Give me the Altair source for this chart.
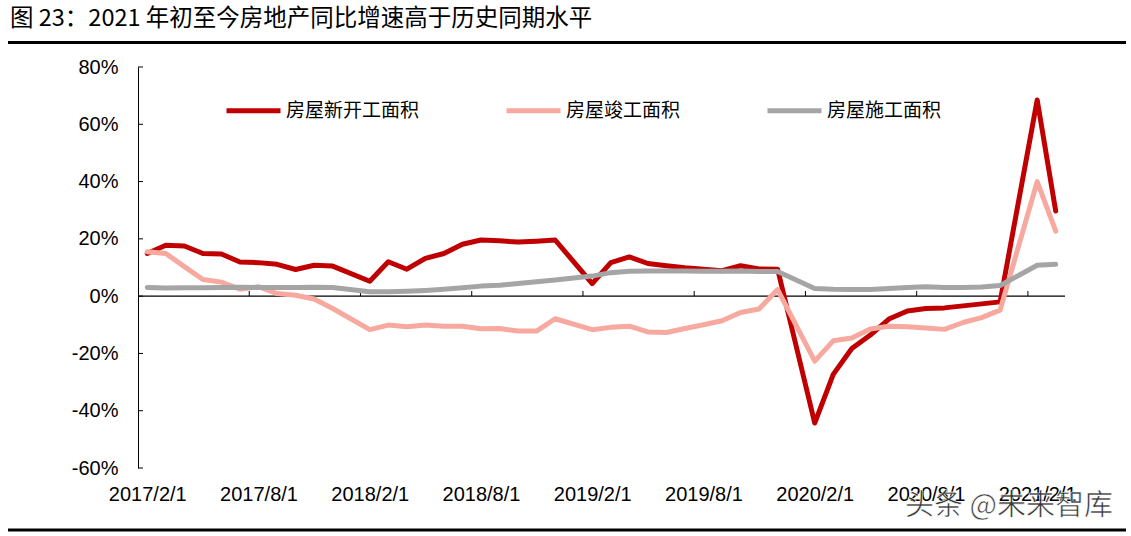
import altair as alt
import pandas as pd

# ---------------- data ----------------
months = [
    "2017/2", "2017/3", "2017/4", "2017/5", "2017/6", "2017/7", "2017/8", "2017/9", "2017/10", "2017/11", "2017/12",
    "2018/2", "2018/3", "2018/4", "2018/5", "2018/6", "2018/7", "2018/8", "2018/9", "2018/10", "2018/11", "2018/12",
    "2019/2", "2019/3", "2019/4", "2019/5", "2019/6", "2019/7", "2019/8", "2019/9", "2019/10", "2019/11", "2019/12",
    "2020/2", "2020/3", "2020/4", "2020/5", "2020/6", "2020/7", "2020/8", "2020/9", "2020/10", "2020/11", "2020/12",
    "2021/2", "2021/3",
]

new_start = [
    14.9, 17.8, 17.5, 14.9, 14.7, 11.9, 11.7, 11.1, 9.3, 10.8, 10.5,
    5.2, 12.0, 9.4, 13.2, 14.9, 18.1, 19.6, 19.3, 18.9, 19.2, 19.6,
    4.4, 11.7, 13.7, 11.4, 10.6, 9.9, 9.4, 8.9, 10.6, 9.5, 9.4,
    -44.3, -27.3, -18.3, -13.6, -8.0, -5.2, -4.3, -4.1, -3.4, -2.7, -2.0,
    68.5, 29.7,
]

completed = [
    15.5, 14.9, 10.3, 5.8, 4.9, 2.4, 3.3, 0.9, 0.3, -1.0, -4.3,
    -11.7, -10.1, -10.7, -10.1, -10.5, -10.5, -11.4, -11.3, -12.2, -12.2, -7.9,
    -11.7, -10.9, -10.5, -12.5, -12.7, -11.3, -10.0, -8.6, -5.7, -4.5, 2.3,
    -22.7, -15.6, -14.6, -11.5, -10.5, -10.7, -11.1, -11.6, -9.2, -7.5, -4.9,
    40.0, 22.7,
]

under_construction = [
    3.0, 2.8, 2.9, 2.9, 3.0, 3.1, 3.0, 3.0, 3.0, 3.1, 3.0,
    1.5, 1.5, 1.7, 2.0, 2.4, 2.9, 3.5, 3.8, 4.4, 5.0, 5.6,
    7.0, 8.2, 8.7, 8.8, 8.8, 8.8, 8.7, 8.7, 8.8, 8.6, 8.6,
    2.7, 2.4, 2.3, 2.3, 2.7, 3.0, 3.3, 3.0, 3.0, 3.2, 3.7,
    10.8, 11.1,
]

series_names = ["房屋新开工面积", "房屋竣工面积", "房屋施工面积"]
series_colors = ["#C00000", "#F7A9A0", "#A5A5A5"]

tick_labels = ["2017/2/1", "2017/8/1", "2018/2/1", "2018/8/1", "2019/2/1",
               "2019/8/1", "2020/2/1", "2020/8/1", "2021/2/1"]
y_ticks = [-60, -40, -20, 0, 20, 40, 60, 80]

title_text = "图 23：2021 年初至今房地产同比增速高于历史同期水平"
watermark_text = "头条 @未来智库"

# ---------------- build tables ----------------
def month_index(s):
    y, m = s.split("/")
    return (int(y) - 2017) * 12 + (int(m) - 2)

rows = []
for name, vals in zip(series_names, [new_start, completed, under_construction]):
    for mth, v in zip(months, vals):
        rows.append({"series": name, "t": month_index(mth) + 0.5, "v": v})
df = pd.DataFrame(rows)

x_tick_pos = [6 * (i + 1) for i in range(len(tick_labels) - 1)]
df_xt = pd.DataFrame({"t": x_tick_pos})
df_yt = pd.DataFrame({"v": y_ticks})
one = pd.DataFrame({"a": [0]})

W, H = 927, 401
PAD_L, PAD_T = 138, 67

x_scale = alt.Scale(domain=[0, 50], nice=False, zero=False)
y_scale = alt.Scale(domain=[-60, 80], nice=False, zero=False)

label_arr = "[" + ",".join("'%s'" % s for s in tick_labels) + "]"

x_enc = alt.X(
    "t:Q", scale=x_scale,
    axis=alt.Axis(
        values=[6 * i + 0.5 for i in range(len(tick_labels))],
        labelExpr=label_arr + "[floor(datum.value/6)]",
        labelFontSize=20, labelFont="Liberation Sans", labelColor="#000000",
        domain=False, ticks=False, grid=False, labelPadding=16,
        labelOverlap=False, labelFlush=False, title=None,
    ),
)
y_enc = alt.Y(
    "v:Q", scale=y_scale,
    axis=alt.Axis(
        values=y_ticks, labelExpr="datum.value + '%'",
        labelFontSize=20, labelFont="Liberation Sans", labelColor="#000000",
        domain=True, domainColor="#000000", domainWidth=1,
        ticks=False, grid=False, labelPadding=20, title=None,
    ),
)
color_enc = alt.Color(
    "series:N",
    scale=alt.Scale(domain=series_names, range=series_colors),
    sort=series_names,
    legend=alt.Legend(
        orient="none", legendX=86, legendY=14, direction="horizontal",
        title=None, symbolType="stroke", symbolStrokeWidth=5, symbolSize=2916,
        labelFontSize=19, labelFont="Noto Sans CJK SC", labelColor="#000000",
        columnPadding=76, labelOffset=3, labelLimit=400,
    ),
)

lines = []
for name in series_names:
    lines.append(
        alt.Chart(df).transform_filter(alt.datum.series == name)
        .mark_line(strokeWidth=5, strokeCap="round", strokeJoin="round")
        .encode(x=x_enc, y=y_enc, color=color_enc)
    )

zero_line = alt.Chart(one).mark_rule(color="#000000", strokeWidth=1.2).encode(
    y=alt.Y("z:Q", scale=y_scale),
).transform_calculate(z="0")

x_ticks = alt.Chart(df_xt).mark_rule(color="#000000", strokeWidth=1).encode(
    x=alt.X("t:Q", scale=x_scale),
    y=alt.Y("y0:Q", scale=y_scale),
    y2="y1:Q",
).transform_calculate(y0="0", y1="1.8")

y_tick_marks = alt.Chart(df_yt).mark_rule(color="#000000", strokeWidth=1).encode(
    y=alt.Y("v:Q", scale=y_scale),
    x=alt.X("x0:Q", scale=x_scale),
    x2="x1:Q",
).transform_calculate(x0="0", x1="0.27")

title = alt.Chart(one).mark_text(
    align="left", baseline="middle", fontSize=23.5, font="Noto Sans CJK SC", color="#000000"
).encode(x=alt.value(10 - PAD_L), y=alt.value(19 - PAD_T), text=alt.value(title_text))

top_rule = alt.Chart(one).mark_rule(color="#000000", strokeWidth=3).encode(
    x=alt.value(8 - PAD_L), x2=alt.value(1126 - PAD_L), y=alt.value(42.5 - PAD_T)
)
bottom_rule = alt.Chart(one).mark_rule(color="#000000", strokeWidth=3).encode(
    x=alt.value(8 - PAD_L), x2=alt.value(1126 - PAD_L), y=alt.value(530 - PAD_T)
)

watermark = alt.Chart(one).mark_text(
    align="left", baseline="middle", fontSize=29, font="Noto Sans CJK SC",
    color="#262626", stroke="#ffffff", strokeWidth=0.6, opacity=0.92
).encode(x=alt.value(905 - PAD_L), y=alt.value(506 - PAD_T), text=alt.value(watermark_text))

chart = alt.layer(
    zero_line, x_ticks, y_tick_marks, *lines, title, top_rule, bottom_rule, watermark
).properties(
    width=W, height=H,
    autosize=alt.AutoSizeParams(type="none"),
    padding={"left": PAD_L, "top": PAD_T, "right": 1131 - PAD_L - W, "bottom": 536 - PAD_T - H},
    background="#ffffff",
).configure_view(stroke=None)

chart.save("out.html", embed_options={"renderer": "svg", "actions": False})
